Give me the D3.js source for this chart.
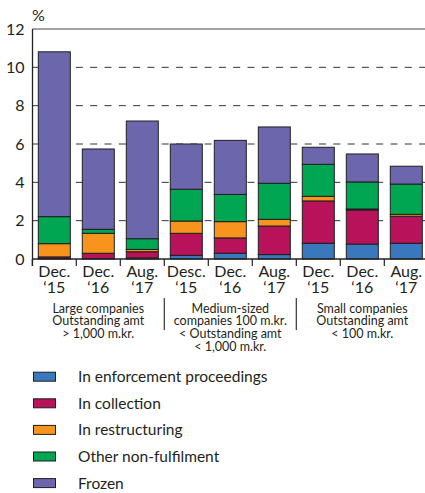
<!DOCTYPE html>
<html>
<head>
<meta charset="utf-8">
<script src="https://cdn.jsdelivr.net/npm/d3@7"></script>
<style>
  body { margin: 0; background: #fff; }
  text { font-family: Lato, "Open Sans", sans-serif; fill: #231f20; }
</style>
</head>
<body>
<div id="chart"></div>
<script>
// data (% of outstanding amount)
var months = ["Dec.", "Dec.", "Aug.", "Desc.", "Dec.", "Aug.", "Dec.", "Dec.", "Aug."];
var years = ["\u201815", "\u201816", "\u201817", "\u201815", "\u201816", "\u201817", "\u201815", "\u201816", "\u201817"];
var seriesNames = ["In enforcement proceedings", "In collection", "In restructuring", "Other non-fulfilment", "Frozen"];
var enforcement = [0.03, 0.02, 0.06, 0.19, 0.30, 0.23, 0.82, 0.78, 0.82];
var collection  = [0.08, 0.28, 0.32, 1.15, 0.80, 1.49, 2.21, 1.78, 1.41];
var restructuring = [0.69, 1.04, 0.12, 0.64, 0.85, 0.35, 0.24, 0.05, 0.10];
var otherNonFulfilment = [1.41, 0.21, 0.56, 1.66, 1.42, 1.88, 1.67, 1.41, 1.58];
var frozen = [8.60, 4.19, 6.14, 2.36, 2.82, 2.94, 0.89, 1.46, 0.93];
var yTicks = [0, 2, 4, 6, 8, 10, 12];
var groupLabels = [
  ["Large companies", "Outstanding amt", "> 1,000 m.kr."],
  ["Medium-sized", "companies 100 m.kr.", "< Outstanding amt", "< 1,000 m.kr."],
  ["Small companies", "Outstanding amt", "< 100 m.kr."]
];
var colors = ["#3a78bd", "#b8135a", "#f7941d", "#00a651", "#6c66ad"];

var width = 425, height = 493;
var svg = d3.select("#chart").append("svg")
    .attr("width", width)
    .attr("height", height);

var ids = months.map(function(m, i) { return i; });
var table = ids.map(function(i) {
  return {id: i, s0: enforcement[i], s1: collection[i], s2: restructuring[i], s3: otherNonFulfilment[i], s4: frozen[i]};
});
var keys = ["s0", "s1", "s2", "s3", "s4"];

var x = d3.scaleBand()
    .domain(ids)
    .range([32.3, 428.3])
    .paddingInner(12 / 44)
    .paddingOuter(6 / 44);

var y = d3.scaleLinear()
    .domain([0, 12])
    .range([259, 29]);

// dashed gridlines
svg.append("g").selectAll("line")
    .data(yTicks.filter(function(d) { return d > 0 && d < 12; }))
  .enter().append("line")
    .attr("x1", 33).attr("x2", width)
    .attr("y1", function(d) { return y(d); })
    .attr("y2", function(d) { return y(d); })
    .attr("stroke", "#333")
    .attr("stroke-width", 1)
    .attr("stroke-dasharray", "7,7.3");

// top frame line
svg.append("line")
    .attr("x1", 32.5).attr("x2", width)
    .attr("y1", y(12)).attr("y2", y(12))
    .attr("stroke", "#444").attr("stroke-width", 1.2);

// stacked bars
var stack = d3.stack().keys(keys);
var layers = stack(table);

svg.append("g").selectAll("g")
    .data(layers)
  .enter().append("g")
    .attr("fill", function(d, i) { return colors[i]; })
  .selectAll("rect")
    .data(function(d) { return d; })
  .enter().append("rect")
    .attr("x", function(d) { return x(d.data.id); })
    .attr("width", x.bandwidth())
    .attr("y", function(d) { return y(d[1]); })
    .attr("height", function(d) { return y(d[0]) - y(d[1]); })
    .attr("stroke", "#1e1e1e")
    .attr("stroke-width", 1);

// y axis
var yAxis = svg.append("g")
    .attr("transform", "translate(32.5,0)")
    .call(d3.axisLeft(y).tickValues(yTicks).tickSize(0).tickPadding(8).tickFormat(d3.format("d")));
yAxis.select(".domain").remove();
yAxis.selectAll("text")
    .style("font-family", "Lato, sans-serif")
    .style("font-size", "16px")
    .attr("fill", "#231f20");

svg.append("line")
    .attr("x1", 32.5).attr("x2", 32.5)
    .attr("y1", y(12)).attr("y2", 266)
    .attr("stroke", "#222").attr("stroke-width", 1.3);

// x axis baseline
svg.append("line")
    .attr("x1", 32.5).attr("x2", width)
    .attr("y1", y(0)).attr("y2", y(0))
    .attr("stroke", "#222").attr("stroke-width", 1.3);

// ticks between categories
var bounds = ids.map(function(i) { return x(i) - x.step() * x.paddingInner() / 2; });
bounds.push(x(ids[ids.length - 1]) + x.bandwidth() + x.step() * x.paddingInner() / 2);
svg.append("g").selectAll("line")
    .data(bounds)
  .enter().append("line")
    .attr("x1", function(d) { return d; }).attr("x2", function(d) { return d; })
    .attr("y1", y(0)).attr("y2", 266)
    .attr("stroke", "#222").attr("stroke-width", 1.2);

// category labels, two lines each
svg.append("g").selectAll("text.month")
    .data(ids)
  .enter().append("text")
    .attr("class", "month")
    .attr("text-anchor", "middle")
    .style("font-size", "16px")
    .attr("x", function(d) { return x(d) + x.bandwidth() / 2; })
    .attr("y", 277)
    .text(function(d) { return months[d]; });
svg.append("g").selectAll("text.year")
    .data(ids)
  .enter().append("text")
    .attr("class", "year")
    .attr("text-anchor", "middle")
    .style("font-size", "16px")
    .attr("x", function(d) { return x(d) + x.bandwidth() / 2; })
    .attr("y", 293)
    .text(function(d) { return years[d]; });

// group labels and separators
groupLabels.forEach(function(lines, g) {
  var cx = (bounds[g * 3] + bounds[g * 3 + 3]) / 2;
  lines.forEach(function(l, k) {
    svg.append("text")
        .attr("text-anchor", "middle")
        .style("font-size", "12.5px")
        .attr("x", cx).attr("y", 312.5 + k * 12.7)
        .text(l);
  });
});
[bounds[3], bounds[6]].forEach(function(bx) {
  svg.append("line")
      .attr("x1", bx).attr("x2", bx)
      .attr("y1", 298).attr("y2", 330)
      .attr("stroke", "#333").attr("stroke-width", 1.2);
});

// unit
svg.append("text")
    .attr("x", 32).attr("y", 21)
    .style("font-size", "16px")
    .text("%");

// legend
var legend = svg.append("g").selectAll("g")
    .data(seriesNames)
  .enter().append("g")
    .attr("transform", function(d, i) { return "translate(0," + (376.7 + i * 26.6) + ")"; });
legend.append("rect")
    .attr("x", 33.5).attr("y", -4.5)
    .attr("width", 22).attr("height", 9)
    .attr("fill", function(d, i) { return colors[i]; })
    .attr("stroke", "#1e1e1e").attr("stroke-width", 1);
legend.append("text")
    .attr("x", 78).attr("dy", "0.36em")
    .style("font-size", "15.5px")
    .text(function(d) { return d; });
</script>
</body>
</html>
